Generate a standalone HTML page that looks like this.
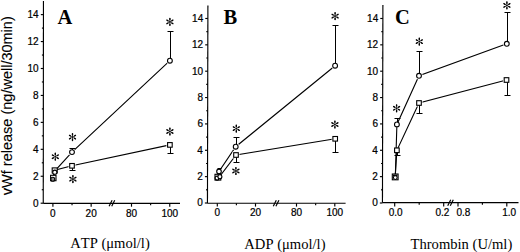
<!DOCTYPE html>
<html><head><meta charset="utf-8"><style>
html,body{margin:0;padding:0;background:#fff;}
body{width:520px;height:252px;overflow:hidden;}
svg{display:block;}
svg text{stroke:none;fill:#000;font-kerning:none;}
svg text.t{stroke:#000;stroke-width:0.22px;}
svg text.yt{stroke:#000;stroke-width:0.12px;}
</style></head><body>
<svg width="520" height="252" viewBox="0 0 520 252" stroke="#000" fill="none">
<rect x="0" y="0" width="520" height="252" fill="#fff" stroke="none"/>
<g fill="#000" stroke="none">
</g>
<g>
<g fill="#000" stroke="#000">
<line x1="43.45" y1="1.00" x2="43.25" y2="203.30" stroke-width="1.15"/>
<line x1="43.25" y1="203.30" x2="180.00" y2="203.30" stroke-width="1.15"/>
<line x1="40.65" y1="203.20" x2="43.25" y2="203.20" stroke-width="1.15"/>
<text x="38.50" y="206.60" font-size="10.0" text-anchor="end" font-family='"Liberation Sans", sans-serif' font-weight="normal" class="t">0</text>
<line x1="41.76" y1="189.73" x2="43.26" y2="189.73" stroke-width="1.15"/>
<line x1="40.68" y1="176.26" x2="43.28" y2="176.26" stroke-width="1.15"/>
<text x="38.53" y="179.66" font-size="10.0" text-anchor="end" font-family='"Liberation Sans", sans-serif' font-weight="normal" class="t">2</text>
<line x1="41.79" y1="162.79" x2="43.29" y2="162.79" stroke-width="1.15"/>
<line x1="40.70" y1="149.32" x2="43.30" y2="149.32" stroke-width="1.15"/>
<text x="38.55" y="152.72" font-size="10.0" text-anchor="end" font-family='"Liberation Sans", sans-serif' font-weight="normal" class="t">4</text>
<line x1="41.82" y1="135.85" x2="43.32" y2="135.85" stroke-width="1.15"/>
<line x1="40.73" y1="122.38" x2="43.33" y2="122.38" stroke-width="1.15"/>
<text x="38.58" y="125.78" font-size="10.0" text-anchor="end" font-family='"Liberation Sans", sans-serif' font-weight="normal" class="t">6</text>
<line x1="41.84" y1="108.91" x2="43.34" y2="108.91" stroke-width="1.15"/>
<line x1="40.76" y1="95.44" x2="43.36" y2="95.44" stroke-width="1.15"/>
<text x="38.61" y="98.84" font-size="10.0" text-anchor="end" font-family='"Liberation Sans", sans-serif' font-weight="normal" class="t">8</text>
<line x1="41.87" y1="81.97" x2="43.37" y2="81.97" stroke-width="1.15"/>
<line x1="40.78" y1="68.50" x2="43.38" y2="68.50" stroke-width="1.15"/>
<text x="38.63" y="71.90" font-size="10.0" text-anchor="end" font-family='"Liberation Sans", sans-serif' font-weight="normal" class="t">10</text>
<line x1="41.90" y1="55.03" x2="43.40" y2="55.03" stroke-width="1.15"/>
<line x1="40.81" y1="41.56" x2="43.41" y2="41.56" stroke-width="1.15"/>
<text x="38.66" y="44.96" font-size="10.0" text-anchor="end" font-family='"Liberation Sans", sans-serif' font-weight="normal" class="t">12</text>
<line x1="41.92" y1="28.09" x2="43.42" y2="28.09" stroke-width="1.15"/>
<line x1="40.84" y1="14.62" x2="43.44" y2="14.62" stroke-width="1.15"/>
<text x="38.69" y="18.02" font-size="10.0" text-anchor="end" font-family='"Liberation Sans", sans-serif' font-weight="normal" class="t">14</text>
<line x1="52.90" y1="203.30" x2="52.90" y2="206.70" stroke-width="1.15"/>
<line x1="91.16" y1="203.30" x2="91.16" y2="206.70" stroke-width="1.15"/>
<line x1="131.50" y1="203.30" x2="131.50" y2="206.70" stroke-width="1.15"/>
<line x1="169.76" y1="203.30" x2="169.76" y2="206.70" stroke-width="1.15"/>
<line x1="72.03" y1="203.30" x2="72.03" y2="205.30" stroke-width="1.15"/>
<line x1="150.63" y1="203.30" x2="150.63" y2="205.30" stroke-width="1.15"/>
<text x="52.90" y="216.60" font-size="10.0" text-anchor="middle" font-family='"Liberation Sans", sans-serif' font-weight="normal" class="t">0</text>
<text x="91.16" y="216.60" font-size="10.0" text-anchor="middle" font-family='"Liberation Sans", sans-serif' font-weight="normal" class="t">20</text>
<text x="131.50" y="216.60" font-size="10.0" text-anchor="middle" font-family='"Liberation Sans", sans-serif' font-weight="normal" class="t">80</text>
<text x="169.76" y="216.60" font-size="10.0" text-anchor="middle" font-family='"Liberation Sans", sans-serif' font-weight="normal" class="t">100</text>
<line x1="109.10" y1="206.30" x2="112.10" y2="200.30" stroke-width="1.2"/>
<line x1="111.70" y1="206.30" x2="114.70" y2="200.30" stroke-width="1.2"/>
<text x="57.50" y="23.60" font-size="20.5" text-anchor="start" font-family='"Liberation Serif", serif' font-weight="bold" >A</text>
<text x="110.00" y="247.90" font-size="14.6" text-anchor="middle" font-family='"Liberation Serif", serif' font-weight="normal" >ATP (&#956;mol/l)</text>
</g>
</g>
<polyline points="52.8,178.4 54.7,171.1 72.0,152.1 169.9,60.7" stroke-width="1.1"/>
<polyline points="53.4,177.6 54.7,170.3 72.0,165.8 169.9,144.9" stroke-width="1.1"/>
<circle cx="72.00" cy="152.10" r="3.6" fill="#fff" stroke="none"/>
<circle cx="169.90" cy="60.70" r="3.6" fill="#fff" stroke="none"/>
<rect x="68.50" y="162.30" width="7.0" height="7.0" fill="#fff" stroke="none"/>
<rect x="166.40" y="141.40" width="7.0" height="7.0" fill="#fff" stroke="none"/>
<line x1="72.50" y1="152.10" x2="72.50" y2="148.50" stroke-width="1.05"/>
<line x1="69.50" y1="148.50" x2="75.50" y2="148.50" stroke-width="1.05"/>
<line x1="170.50" y1="60.70" x2="170.50" y2="31.50" stroke-width="1.05"/>
<line x1="167.50" y1="31.50" x2="173.50" y2="31.50" stroke-width="1.05"/>
<line x1="72.50" y1="165.80" x2="72.50" y2="170.50" stroke-width="1.05"/>
<line x1="69.50" y1="170.50" x2="75.50" y2="170.50" stroke-width="1.05"/>
<line x1="170.50" y1="144.90" x2="170.50" y2="153.50" stroke-width="1.05"/>
<line x1="167.50" y1="153.50" x2="173.50" y2="153.50" stroke-width="1.05"/>
<rect x="50.60" y="175.30" width="5.4" height="5.4" fill="#fff" stroke-width="1.1"/>
<circle cx="52.80" cy="179.30" r="2.0" fill="#888" stroke-width="1.1"/>
<rect x="52.20" y="167.90" width="5.0" height="5.0" fill="#fff" stroke-width="1.1"/>
<circle cx="54.80" cy="172.20" r="2.1" fill="#fff" stroke-width="1.1"/>
<circle cx="72.00" cy="152.10" r="2.4" fill="#fff" stroke-width="1.1"/>
<circle cx="169.90" cy="60.70" r="2.4" fill="#fff" stroke-width="1.1"/>
<rect x="69.70" y="163.50" width="4.6" height="4.6" fill="#fff" stroke-width="1.1"/>
<rect x="167.60" y="142.60" width="4.6" height="4.6" fill="#fff" stroke-width="1.1"/>
<path d="M55.30,156.70L55.30,153.30M55.30,156.70L58.24,155.00M55.30,156.70L58.24,158.40M55.30,156.70L55.30,160.10M55.30,156.70L52.36,158.40M55.30,156.70L52.36,155.00" stroke-width="0.6" stroke-linecap="round"/>
<path d="M55.30,154.50L55.30,153.30M57.21,155.60L58.24,155.00M57.21,157.80L58.24,158.40M55.30,158.90L55.30,160.10M53.39,157.80L52.36,158.40M53.39,155.60L52.36,155.00" stroke-width="1.4" stroke-linecap="round"/>
<path d="M72.50,137.10L72.50,133.70M72.50,137.10L75.44,135.40M72.50,137.10L75.44,138.80M72.50,137.10L72.50,140.50M72.50,137.10L69.56,138.80M72.50,137.10L69.56,135.40" stroke-width="0.6" stroke-linecap="round"/>
<path d="M72.50,134.90L72.50,133.70M74.41,136.00L75.44,135.40M74.41,138.20L75.44,138.80M72.50,139.30L72.50,140.50M70.59,138.20L69.56,138.80M70.59,136.00L69.56,135.40" stroke-width="1.4" stroke-linecap="round"/>
<path d="M72.90,179.10L72.90,175.70M72.90,179.10L75.84,177.40M72.90,179.10L75.84,180.80M72.90,179.10L72.90,182.50M72.90,179.10L69.96,180.80M72.90,179.10L69.96,177.40" stroke-width="0.6" stroke-linecap="round"/>
<path d="M72.90,176.90L72.90,175.70M74.81,178.00L75.84,177.40M74.81,180.20L75.84,180.80M72.90,181.30L72.90,182.50M70.99,180.20L69.96,180.80M70.99,178.00L69.96,177.40" stroke-width="1.4" stroke-linecap="round"/>
<path d="M169.90,21.90L169.90,18.50M169.90,21.90L172.84,20.20M169.90,21.90L172.84,23.60M169.90,21.90L169.90,25.30M169.90,21.90L166.96,23.60M169.90,21.90L166.96,20.20" stroke-width="0.6" stroke-linecap="round"/>
<path d="M169.90,19.70L169.90,18.50M171.81,20.80L172.84,20.20M171.81,23.00L172.84,23.60M169.90,24.10L169.90,25.30M167.99,23.00L166.96,23.60M167.99,20.80L166.96,20.20" stroke-width="1.4" stroke-linecap="round"/>
<path d="M169.90,131.50L169.90,128.10M169.90,131.50L172.84,129.80M169.90,131.50L172.84,133.20M169.90,131.50L169.90,134.90M169.90,131.50L166.96,133.20M169.90,131.50L166.96,129.80" stroke-width="0.6" stroke-linecap="round"/>
<path d="M169.90,129.30L169.90,128.10M171.81,130.40L172.84,129.80M171.81,132.60L172.84,133.20M169.90,133.70L169.90,134.90M167.99,132.60L166.96,133.20M167.99,130.40L166.96,129.80" stroke-width="1.4" stroke-linecap="round"/>
<g fill="#000" stroke="#000">
<line x1="207.90" y1="5.40" x2="207.45" y2="203.20" stroke-width="1.15"/>
<line x1="207.45" y1="203.20" x2="345.60" y2="203.20" stroke-width="1.15"/>
<line x1="204.85" y1="203.00" x2="207.45" y2="203.00" stroke-width="1.15"/>
<text x="202.80" y="206.40" font-size="10.0" text-anchor="end" font-family='"Liberation Sans", sans-serif' font-weight="normal" class="t">0</text>
<line x1="205.98" y1="189.82" x2="207.48" y2="189.82" stroke-width="1.15"/>
<line x1="204.91" y1="176.64" x2="207.51" y2="176.64" stroke-width="1.15"/>
<text x="202.86" y="180.04" font-size="10.0" text-anchor="end" font-family='"Liberation Sans", sans-serif' font-weight="normal" class="t">2</text>
<line x1="206.04" y1="163.46" x2="207.54" y2="163.46" stroke-width="1.15"/>
<line x1="204.97" y1="150.28" x2="207.57" y2="150.28" stroke-width="1.15"/>
<text x="202.92" y="153.68" font-size="10.0" text-anchor="end" font-family='"Liberation Sans", sans-serif' font-weight="normal" class="t">4</text>
<line x1="206.10" y1="137.10" x2="207.60" y2="137.10" stroke-width="1.15"/>
<line x1="205.03" y1="123.92" x2="207.63" y2="123.92" stroke-width="1.15"/>
<text x="202.98" y="127.32" font-size="10.0" text-anchor="end" font-family='"Liberation Sans", sans-serif' font-weight="normal" class="t">6</text>
<line x1="206.16" y1="110.74" x2="207.66" y2="110.74" stroke-width="1.15"/>
<line x1="205.09" y1="97.56" x2="207.69" y2="97.56" stroke-width="1.15"/>
<text x="203.04" y="100.96" font-size="10.0" text-anchor="end" font-family='"Liberation Sans", sans-serif' font-weight="normal" class="t">8</text>
<line x1="206.22" y1="84.38" x2="207.72" y2="84.38" stroke-width="1.15"/>
<line x1="205.15" y1="71.20" x2="207.75" y2="71.20" stroke-width="1.15"/>
<text x="203.10" y="74.60" font-size="10.0" text-anchor="end" font-family='"Liberation Sans", sans-serif' font-weight="normal" class="t">10</text>
<line x1="206.28" y1="58.02" x2="207.78" y2="58.02" stroke-width="1.15"/>
<line x1="205.21" y1="44.84" x2="207.81" y2="44.84" stroke-width="1.15"/>
<text x="203.16" y="48.24" font-size="10.0" text-anchor="end" font-family='"Liberation Sans", sans-serif' font-weight="normal" class="t">12</text>
<line x1="206.34" y1="31.66" x2="207.84" y2="31.66" stroke-width="1.15"/>
<line x1="205.27" y1="18.48" x2="207.87" y2="18.48" stroke-width="1.15"/>
<text x="203.22" y="21.88" font-size="10.0" text-anchor="end" font-family='"Liberation Sans", sans-serif' font-weight="normal" class="t">14</text>
<line x1="217.30" y1="203.20" x2="217.30" y2="206.60" stroke-width="1.15"/>
<line x1="255.50" y1="203.20" x2="255.50" y2="206.60" stroke-width="1.15"/>
<line x1="296.50" y1="203.20" x2="296.50" y2="206.60" stroke-width="1.15"/>
<line x1="334.80" y1="203.20" x2="334.80" y2="206.60" stroke-width="1.15"/>
<line x1="236.40" y1="203.20" x2="236.40" y2="205.20" stroke-width="1.15"/>
<line x1="315.65" y1="203.20" x2="315.65" y2="205.20" stroke-width="1.15"/>
<text x="217.30" y="216.00" font-size="10.0" text-anchor="middle" font-family='"Liberation Sans", sans-serif' font-weight="normal" class="t">0</text>
<text x="255.50" y="216.00" font-size="10.0" text-anchor="middle" font-family='"Liberation Sans", sans-serif' font-weight="normal" class="t">20</text>
<text x="296.50" y="216.00" font-size="10.0" text-anchor="middle" font-family='"Liberation Sans", sans-serif' font-weight="normal" class="t">80</text>
<text x="334.80" y="216.00" font-size="10.0" text-anchor="middle" font-family='"Liberation Sans", sans-serif' font-weight="normal" class="t">100</text>
<line x1="273.30" y1="206.20" x2="276.30" y2="200.20" stroke-width="1.2"/>
<line x1="275.90" y1="206.20" x2="278.90" y2="200.20" stroke-width="1.2"/>
<text x="223.50" y="23.60" font-size="20.5" text-anchor="start" font-family='"Liberation Serif", serif' font-weight="bold" >B</text>
<text x="284.90" y="249.20" font-size="14.6" text-anchor="middle" font-family='"Liberation Serif", serif' font-weight="normal" >ADP (&#956;mol/l)</text>
</g>
<polyline points="217.3,178.0 219.0,171.4 235.7,146.7 335.1,65.7" stroke-width="1.1"/>
<polyline points="217.6,177.4 219.8,176.4 236.0,155.0 335.2,138.8" stroke-width="1.1"/>
<circle cx="235.70" cy="146.70" r="3.6" fill="#fff" stroke="none"/>
<circle cx="335.10" cy="65.70" r="3.6" fill="#fff" stroke="none"/>
<rect x="232.50" y="151.50" width="7.0" height="7.0" fill="#fff" stroke="none"/>
<rect x="331.70" y="135.30" width="7.0" height="7.0" fill="#fff" stroke="none"/>
<line x1="236.50" y1="146.70" x2="236.50" y2="137.50" stroke-width="1.05"/>
<line x1="233.50" y1="137.50" x2="239.50" y2="137.50" stroke-width="1.05"/>
<line x1="335.50" y1="65.70" x2="335.50" y2="25.50" stroke-width="1.05"/>
<line x1="332.50" y1="25.50" x2="338.50" y2="25.50" stroke-width="1.05"/>
<line x1="236.50" y1="155.00" x2="236.50" y2="162.50" stroke-width="1.05"/>
<line x1="233.50" y1="162.50" x2="239.50" y2="162.50" stroke-width="1.05"/>
<line x1="335.50" y1="138.80" x2="335.50" y2="152.50" stroke-width="1.05"/>
<line x1="332.50" y1="152.50" x2="338.50" y2="152.50" stroke-width="1.05"/>
<line x1="219.50" y1="171.40" x2="219.50" y2="168.50" stroke-width="1.05"/>
<line x1="217.50" y1="168.50" x2="221.50" y2="168.50" stroke-width="1.05"/>
<rect x="215.00" y="174.30" width="5.8" height="5.8" fill="#fff" stroke-width="1.1"/>
<circle cx="217.10" cy="178.10" r="2.0" fill="#fff" stroke-width="1.1"/>
<circle cx="219.90" cy="176.70" r="2.0" fill="#fff" stroke-width="1.1"/>
<circle cx="219.00" cy="171.40" r="2.3" fill="#fff" stroke-width="1.1"/>
<circle cx="235.70" cy="146.70" r="2.4" fill="#fff" stroke-width="1.1"/>
<circle cx="335.10" cy="65.70" r="2.4" fill="#fff" stroke-width="1.1"/>
<rect x="233.70" y="152.70" width="4.6" height="4.6" fill="#fff" stroke-width="1.1"/>
<rect x="332.90" y="136.50" width="4.6" height="4.6" fill="#fff" stroke-width="1.1"/>
<path d="M236.30,128.60L236.30,125.20M236.30,128.60L239.24,126.90M236.30,128.60L239.24,130.30M236.30,128.60L236.30,132.00M236.30,128.60L233.36,130.30M236.30,128.60L233.36,126.90" stroke-width="0.6" stroke-linecap="round"/>
<path d="M236.30,126.40L236.30,125.20M238.21,127.50L239.24,126.90M238.21,129.70L239.24,130.30M236.30,130.80L236.30,132.00M234.39,129.70L233.36,130.30M234.39,127.50L233.36,126.90" stroke-width="1.4" stroke-linecap="round"/>
<path d="M235.90,171.00L235.90,167.60M235.90,171.00L238.84,169.30M235.90,171.00L238.84,172.70M235.90,171.00L235.90,174.40M235.90,171.00L232.96,172.70M235.90,171.00L232.96,169.30" stroke-width="0.6" stroke-linecap="round"/>
<path d="M235.90,168.80L235.90,167.60M237.81,169.90L238.84,169.30M237.81,172.10L238.84,172.70M235.90,173.20L235.90,174.40M233.99,172.10L232.96,172.70M233.99,169.90L232.96,169.30" stroke-width="1.4" stroke-linecap="round"/>
<path d="M335.10,16.10L335.10,12.70M335.10,16.10L338.04,14.40M335.10,16.10L338.04,17.80M335.10,16.10L335.10,19.50M335.10,16.10L332.16,17.80M335.10,16.10L332.16,14.40" stroke-width="0.6" stroke-linecap="round"/>
<path d="M335.10,13.90L335.10,12.70M337.01,15.00L338.04,14.40M337.01,17.20L338.04,17.80M335.10,18.30L335.10,19.50M333.19,17.20L332.16,17.80M333.19,15.00L332.16,14.40" stroke-width="1.4" stroke-linecap="round"/>
<path d="M334.90,124.50L334.90,121.10M334.90,124.50L337.84,122.80M334.90,124.50L337.84,126.20M334.90,124.50L334.90,127.90M334.90,124.50L331.96,126.20M334.90,124.50L331.96,122.80" stroke-width="0.6" stroke-linecap="round"/>
<path d="M334.90,122.30L334.90,121.10M336.81,123.40L337.84,122.80M336.81,125.60L337.84,126.20M334.90,126.70L334.90,127.90M332.99,125.60L331.96,126.20M332.99,123.40L331.96,122.80" stroke-width="1.4" stroke-linecap="round"/>
<g fill="#000" stroke="#000">
<line x1="382.90" y1="5.00" x2="382.45" y2="202.65" stroke-width="1.15"/>
<line x1="382.45" y1="202.65" x2="518.50" y2="202.65" stroke-width="1.15"/>
<line x1="379.85" y1="203.00" x2="382.45" y2="203.00" stroke-width="1.15"/>
<text x="377.80" y="206.40" font-size="10.0" text-anchor="end" font-family='"Liberation Sans", sans-serif' font-weight="normal" class="t">0</text>
<line x1="380.98" y1="189.82" x2="382.48" y2="189.82" stroke-width="1.15"/>
<line x1="379.91" y1="176.64" x2="382.51" y2="176.64" stroke-width="1.15"/>
<text x="377.86" y="180.04" font-size="10.0" text-anchor="end" font-family='"Liberation Sans", sans-serif' font-weight="normal" class="t">2</text>
<line x1="381.04" y1="163.46" x2="382.54" y2="163.46" stroke-width="1.15"/>
<line x1="379.97" y1="150.28" x2="382.57" y2="150.28" stroke-width="1.15"/>
<text x="377.92" y="153.68" font-size="10.0" text-anchor="end" font-family='"Liberation Sans", sans-serif' font-weight="normal" class="t">4</text>
<line x1="381.10" y1="137.10" x2="382.60" y2="137.10" stroke-width="1.15"/>
<line x1="380.03" y1="123.92" x2="382.63" y2="123.92" stroke-width="1.15"/>
<text x="377.98" y="127.32" font-size="10.0" text-anchor="end" font-family='"Liberation Sans", sans-serif' font-weight="normal" class="t">6</text>
<line x1="381.16" y1="110.74" x2="382.66" y2="110.74" stroke-width="1.15"/>
<line x1="380.09" y1="97.56" x2="382.69" y2="97.56" stroke-width="1.15"/>
<text x="378.04" y="100.96" font-size="10.0" text-anchor="end" font-family='"Liberation Sans", sans-serif' font-weight="normal" class="t">8</text>
<line x1="381.22" y1="84.38" x2="382.72" y2="84.38" stroke-width="1.15"/>
<line x1="380.15" y1="71.20" x2="382.75" y2="71.20" stroke-width="1.15"/>
<text x="378.10" y="74.60" font-size="10.0" text-anchor="end" font-family='"Liberation Sans", sans-serif' font-weight="normal" class="t">10</text>
<line x1="381.28" y1="58.02" x2="382.78" y2="58.02" stroke-width="1.15"/>
<line x1="380.21" y1="44.84" x2="382.81" y2="44.84" stroke-width="1.15"/>
<text x="378.16" y="48.24" font-size="10.0" text-anchor="end" font-family='"Liberation Sans", sans-serif' font-weight="normal" class="t">12</text>
<line x1="381.34" y1="31.66" x2="382.84" y2="31.66" stroke-width="1.15"/>
<line x1="380.27" y1="18.48" x2="382.87" y2="18.48" stroke-width="1.15"/>
<text x="378.22" y="21.88" font-size="10.0" text-anchor="end" font-family='"Liberation Sans", sans-serif' font-weight="normal" class="t">14</text>
<line x1="394.70" y1="202.65" x2="394.70" y2="206.45" stroke-width="1.15"/>
<line x1="443.70" y1="202.65" x2="443.70" y2="206.45" stroke-width="1.15"/>
<line x1="458.00" y1="202.65" x2="458.00" y2="206.45" stroke-width="1.15"/>
<line x1="506.80" y1="202.65" x2="506.80" y2="206.45" stroke-width="1.15"/>
<line x1="419.20" y1="202.65" x2="419.20" y2="204.65" stroke-width="1.15"/>
<line x1="482.40" y1="202.65" x2="482.40" y2="204.65" stroke-width="1.15"/>
<text x="395.70" y="216.40" font-size="10.0" text-anchor="middle" font-family='"Liberation Sans", sans-serif' font-weight="normal" class="t">0.0</text>
<text x="442.40" y="216.40" font-size="10.0" text-anchor="middle" font-family='"Liberation Sans", sans-serif' font-weight="normal" class="t">0.2</text>
<text x="463.40" y="216.40" font-size="10.0" text-anchor="middle" font-family='"Liberation Sans", sans-serif' font-weight="normal" class="t">0.8</text>
<text x="509.20" y="216.40" font-size="10.0" text-anchor="middle" font-family='"Liberation Sans", sans-serif' font-weight="normal" class="t">1.0</text>
<line x1="447.70" y1="205.65" x2="450.70" y2="199.65" stroke-width="1.2"/>
<line x1="450.30" y1="205.65" x2="453.30" y2="199.65" stroke-width="1.2"/>
<text x="395.00" y="23.60" font-size="20.5" text-anchor="start" font-family='"Liberation Serif", serif' font-weight="bold" >C</text>
<text x="461.40" y="248.90" font-size="14.6" text-anchor="middle" font-family='"Liberation Serif", serif' font-weight="normal" >Thrombin (U/ml)</text>
</g>
<polyline points="395.3,176.9 396.9,124.4 419.0,75.8 506.8,43.8" stroke-width="1.1"/>
<polyline points="395.2,176.9 396.9,150.3 419.0,103.0 506.5,80.0" stroke-width="1.1"/>
<circle cx="419.00" cy="75.80" r="3.6" fill="#fff" stroke="none"/>
<circle cx="506.80" cy="43.80" r="3.6" fill="#fff" stroke="none"/>
<rect x="415.50" y="99.50" width="7.0" height="7.0" fill="#fff" stroke="none"/>
<rect x="503.00" y="76.50" width="7.0" height="7.0" fill="#fff" stroke="none"/>
<line x1="397.50" y1="124.40" x2="397.50" y2="118.50" stroke-width="1.05"/>
<line x1="394.50" y1="118.50" x2="400.50" y2="118.50" stroke-width="1.05"/>
<line x1="419.50" y1="75.80" x2="419.50" y2="51.50" stroke-width="1.05"/>
<line x1="416.50" y1="51.50" x2="422.50" y2="51.50" stroke-width="1.05"/>
<line x1="507.50" y1="43.80" x2="507.50" y2="12.50" stroke-width="1.05"/>
<line x1="504.50" y1="12.50" x2="510.50" y2="12.50" stroke-width="1.05"/>
<line x1="397.50" y1="150.30" x2="397.50" y2="155.50" stroke-width="1.05"/>
<line x1="394.50" y1="155.50" x2="400.50" y2="155.50" stroke-width="1.05"/>
<line x1="419.50" y1="103.00" x2="419.50" y2="113.50" stroke-width="1.05"/>
<line x1="416.50" y1="113.50" x2="422.50" y2="113.50" stroke-width="1.05"/>
<line x1="507.50" y1="80.00" x2="507.50" y2="95.50" stroke-width="1.05"/>
<line x1="504.50" y1="95.50" x2="510.50" y2="95.50" stroke-width="1.05"/>
<rect x="392.30" y="174.00" width="5.8" height="5.8" fill="#fff" stroke-width="1.1"/>
<rect x="393.0" y="174.6" width="4.4" height="1.6" fill="#000" stroke="none"/>
<circle cx="395.30" cy="177.60" r="1.9" fill="#fff" stroke-width="1.1"/>
<circle cx="396.90" cy="124.40" r="2.4" fill="#fff" stroke-width="1.1"/>
<circle cx="419.00" cy="75.80" r="2.4" fill="#fff" stroke-width="1.1"/>
<circle cx="506.80" cy="43.80" r="2.4" fill="#fff" stroke-width="1.1"/>
<rect x="394.60" y="148.00" width="4.6" height="4.6" fill="#fff" stroke-width="1.1"/>
<rect x="416.70" y="100.70" width="4.6" height="4.6" fill="#fff" stroke-width="1.1"/>
<rect x="504.20" y="77.70" width="4.6" height="4.6" fill="#fff" stroke-width="1.1"/>
<path d="M396.60,108.30L396.60,104.90M396.60,108.30L399.54,106.60M396.60,108.30L399.54,110.00M396.60,108.30L396.60,111.70M396.60,108.30L393.66,110.00M396.60,108.30L393.66,106.60" stroke-width="0.6" stroke-linecap="round"/>
<path d="M396.60,106.10L396.60,104.90M398.51,107.20L399.54,106.60M398.51,109.40L399.54,110.00M396.60,110.50L396.60,111.70M394.69,109.40L393.66,110.00M394.69,107.20L393.66,106.60" stroke-width="1.4" stroke-linecap="round"/>
<path d="M419.30,41.60L419.30,38.20M419.30,41.60L422.24,39.90M419.30,41.60L422.24,43.30M419.30,41.60L419.30,45.00M419.30,41.60L416.36,43.30M419.30,41.60L416.36,39.90" stroke-width="0.6" stroke-linecap="round"/>
<path d="M419.30,39.40L419.30,38.20M421.21,40.50L422.24,39.90M421.21,42.70L422.24,43.30M419.30,43.80L419.30,45.00M417.39,42.70L416.36,43.30M417.39,40.50L416.36,39.90" stroke-width="1.4" stroke-linecap="round"/>
<path d="M506.90,5.40L506.90,2.00M506.90,5.40L509.84,3.70M506.90,5.40L509.84,7.10M506.90,5.40L506.90,8.80M506.90,5.40L503.96,7.10M506.90,5.40L503.96,3.70" stroke-width="0.6" stroke-linecap="round"/>
<path d="M506.90,3.20L506.90,2.00M508.81,4.30L509.84,3.70M508.81,6.50L509.84,7.10M506.90,7.60L506.90,8.80M504.99,6.50L503.96,7.10M504.99,4.30L503.96,3.70" stroke-width="1.4" stroke-linecap="round"/>
<text class="yt" transform="translate(11.5,105.7) rotate(-90)" font-size="14.5" text-anchor="middle" font-family='"Liberation Sans", sans-serif' fill="#000" stroke="none">vWf release (ng/well/30min)</text>
</svg>
</body></html>
